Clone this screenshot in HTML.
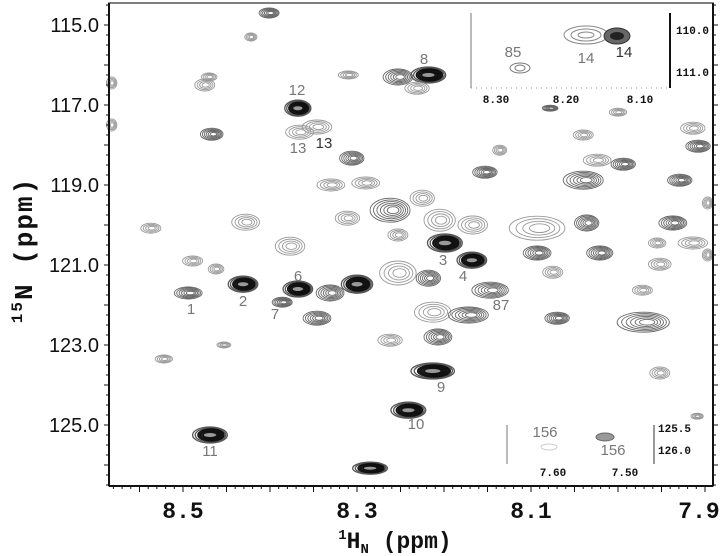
<!DOCTYPE html>
<html><head><meta charset="utf-8"><style>
html,body{margin:0;padding:0;background:#fff;}
svg{display:block;}
.tk{font-family:"Liberation Sans",sans-serif;font-size:20px;fill:#111;}
.xt{font-family:"Liberation Mono",monospace;font-size:23px;font-weight:bold;fill:#111;}
.yt{font-family:"Liberation Mono",monospace;font-size:26px;font-weight:bold;fill:#111;letter-spacing:2px;}
.lb{font-family:"Liberation Sans",sans-serif;font-size:15px;fill:#777;}
.lbd{font-family:"Liberation Sans",sans-serif;font-size:15px;fill:#333;}
.it{font-family:"Liberation Mono",monospace;font-size:11px;font-weight:bold;fill:#111;}
</style></head><body>
<svg id="chart" width="720" height="556" viewBox="0 0 720 556" xmlns="http://www.w3.org/2000/svg">
<g id="peaks"></g>
<g id="axes"></g>
<g>
<text class="lb" x="191" y="314" text-anchor="middle">1</text>
<text class="lb" x="243" y="306" text-anchor="middle">2</text>
<text class="lb" x="275" y="319" text-anchor="middle">7</text>
<text class="lb" x="298" y="281" text-anchor="middle">6</text>
<text class="lb" x="443" y="265" text-anchor="middle">3</text>
<text class="lb" x="463" y="281" text-anchor="middle">4</text>
<text class="lb" x="501" y="310" text-anchor="middle">87</text>
<text class="lb" x="441" y="392" text-anchor="middle">9</text>
<text class="lb" x="416" y="429" text-anchor="middle">10</text>
<text class="lb" x="210" y="456" text-anchor="middle">11</text>
<text class="lb" x="297" y="95" text-anchor="middle">12</text>
<text class="lb" x="298" y="153" text-anchor="middle">13</text>
<text class="lbd" x="324" y="148" text-anchor="middle">13</text>
<text class="lb" x="424" y="64" text-anchor="middle">8</text>
</g>
<g>
<rect x="471" y="12" width="199" height="76" fill="#fff"/>
<line x1="471" y1="13" x2="471" y2="88" stroke="#777" stroke-width="1"/>
<line x1="471" y1="88" x2="670" y2="88" stroke="#999" stroke-width="1" stroke-dasharray="1 4"/>
<line x1="670" y1="13" x2="670" y2="88" stroke="#111" stroke-width="2"/>
<ellipse cx="586" cy="35" rx="22" ry="9" fill="none" stroke="#888"/>
<ellipse cx="586" cy="35" rx="15" ry="6" fill="none" stroke="#888"/>
<ellipse cx="586" cy="35" rx="8" ry="3" fill="none" stroke="#888"/>
<ellipse cx="617" cy="36" rx="13" ry="8" fill="#666" stroke="#333"/>
<ellipse cx="617" cy="36" rx="7" ry="4" fill="#222"/>
<ellipse cx="520" cy="68" rx="10" ry="5" fill="none" stroke="#777"/>
<ellipse cx="520" cy="68" rx="5" ry="3" fill="none" stroke="#777"/>
<text class="lb" x="513" y="57" text-anchor="middle" font-size="16">85</text>
<text class="lb" x="586" y="63" text-anchor="middle" font-size="16">14</text>
<text class="lbd" x="624" y="57" text-anchor="middle" font-size="16">14</text>
<text class="it" x="496" y="103" text-anchor="middle">8.30</text>
<text class="it" x="566" y="103" text-anchor="middle">8.20</text>
<text class="it" x="640" y="103" text-anchor="middle">8.10</text>
<text class="it" x="676" y="34">110.0</text>
<text class="it" x="676" y="76">111.0</text>
</g>
<g>
<line x1="507" y1="425" x2="507" y2="464" stroke="#777"/>
<line x1="654" y1="425" x2="654" y2="464" stroke="#333"/>
<ellipse cx="549" cy="447" rx="8" ry="3" fill="none" stroke="#ccc"/>
<ellipse cx="605" cy="437" rx="9" ry="4" fill="#999" stroke="#666"/>
<text class="lb" x="545" y="437" text-anchor="middle" font-size="16" fill="#999">156</text>
<text class="lb" x="613" y="455" text-anchor="middle" font-size="16">156</text>
<text class="it" x="658" y="432">125.5</text>
<text class="it" x="658" y="454">126.0</text>
<text class="it" x="553" y="476" text-anchor="middle">7.60</text>
<text class="it" x="625" y="476" text-anchor="middle">7.50</text>
</g>
<text class="xt" x="395" y="548" text-anchor="middle"><tspan font-size="14" dy="-9">1</tspan><tspan dy="9">H</tspan><tspan font-size="14" dy="5">N</tspan><tspan dy="-5"> (ppm)</tspan></text>
<text class="yt" transform="translate(32,250) rotate(-90)" text-anchor="middle"><tspan font-size="16" dy="-10">15</tspan><tspan dy="10">N  (ppm)</tspan></text>
</svg>
<script>
// Peak data (ppm)
const peakH = [8.537,8.428,8.377,8.489,8.462,8.494,8.431,8.386,8.368,8.331,8.300,8.346,8.453,8.522,8.469,8.241,8.213,8.285,8.262,8.207,8.213,8.172,8.199,8.168,8.147,8.253,8.218,8.262,8.225,8.205,8.167,8.311,8.253,8.330,8.290,8.401,8.422,8.475,8.470,8.467,8.368,8.366,8.346,8.310,8.306,8.253,8.218,8.231,8.153,8.136,8.078,8.000,8.040,8.024,7.994,8.040,7.914,7.908,7.929,7.897,8.093,8.036,7.937,7.955,7.914,7.897,8.093,8.021,8.075,7.952,7.972,8.070,7.971,7.952,7.909,8.582,8.582];
const peakN = [120.08,119.93,120.53,120.9,121.1,121.7,121.48,121.93,121.6,121.7,121.48,122.33,123.0,123.35,125.25,124.63,123.65,126.08,122.88,122.8,122.18,122.25,120.45,120.88,121.63,121.2,121.33,119.63,119.33,119.88,120.0,119.83,120.25,119.0,118.95,114.7,115.3,116.5,116.3,117.73,117.08,117.68,117.55,116.25,118.33,116.3,116.25,116.58,118.68,118.13,117.08,117.18,117.75,118.38,118.48,118.88,117.58,118.03,118.88,119.45,120.08,119.95,119.95,120.45,120.45,120.75,120.7,120.7,121.18,120.98,121.63,122.33,122.43,123.7,124.78,116.45,117.5];
const peakLevel = [1,1,1,1,1,2,3,2,3,2,3,2,1,1,3,3,3,3,1,2,1,2,3,3,2,1,2,2,1,1,1,1,1,1,1,2,1,1,1,2,3,1,1,1,2,2,3,1,2,1,2,1,1,1,2,2,1,2,2,1,1,2,2,1,1,1,2,2,1,1,1,2,2,1,1,1,1];
const widthH = [.0115,.016,.017,.0115,.009,.016,.017,.0115,.017,.016,.018,.016,.008,.010,.020,.020,.025,.020,.014,.016,.021,.023,.020,.017,.021,.021,.014,.023,.014,.018,.017,.014,.0115,.016,.016,.0115,.007,.0115,.009,.013,.015,.016,.017,.0115,.014,.017,.020,.014,.014,.008,.009,.010,.0115,.016,.014,.023,.014,.014,.014,.006,.032,.014,.016,.010,.017,.006,.016,.015,.0115,.013,.0115,.014,.030,.0115,.007,.006,.006];
const widthN = [.125,.2,.225,.125,.125,.15,.2,.125,.2,.2,.225,.175,.075,.1,.2,.2,.2,.15,.15,.2,.25,.2,.225,.2,.2,.3,.2,.3,.2,.275,.225,.175,.15,.15,.15,.125,.1,.15,.1,.15,.2,.175,.175,.1,.175,.2,.2,.15,.15,.125,.075,.1,.125,.15,.15,.225,.15,.15,.15,.15,.3,.2,.175,.125,.15,.15,.175,.175,.15,.15,.125,.15,.25,.15,.075,.15,.15];
const xTicks = [8.5,8.3,8.1,7.9];
const xTickLabels = ["8.5","8.3","8.1","7.9"];
const yTicks = [115,117,119,121,123,125];
const yTickLabels = ["115.0","117.0","119.0","121.0","123.0","125.0"];

const NS="http://www.w3.org/2000/svg";
const L=109,R=713,T=3,B=486;
function xs(h){return 183+(8.5-h)*870;}
function ys(n){return 25+(n-115)*40;}
const pg=document.getElementById('peaks');
for(let i=0;i<peakH.length;i++){
  const cx=xs(peakH[i]),cy=ys(peakN[i]);
  const rx=widthH[i]*870,ry=widthN[i]*40,lv=peakLevel[i];
  const g=document.createElementNS(NS,'g');
  
  
  const n=lv===3?7:(lv===2?6:4);
  for(let k=0;k<n;k++){
    const s=1-k/n*0.85;
    const e=document.createElementNS(NS,'ellipse');
    e.setAttribute('cx',cx+(k*rx*0.03));e.setAttribute('cy',cy);
    e.setAttribute('rx',rx*s);e.setAttribute('ry',ry*s);
    let col=lv===3?(k<2?'#555':'#111'):(lv===2?'#666':'#999');
    e.setAttribute('stroke',col);e.setAttribute('stroke-width',lv===3?1.3:0.9);
    e.setAttribute('fill',(lv===3&&k>=2)?'#222':'none');
    g.appendChild(e);
  }
  if(lv===3){const e=document.createElementNS(NS,'ellipse');e.setAttribute('cx',cx);e.setAttribute('cy',cy);e.setAttribute('rx',rx*0.35);e.setAttribute('ry',ry*0.25);e.setAttribute('fill','#999');g.appendChild(e);}
  pg.appendChild(g);
}
const ax=document.getElementById('axes');
function line(x1,y1,x2,y2,w,c){const l=document.createElementNS(NS,'line');l.setAttribute('x1',x1);l.setAttribute('y1',y1);l.setAttribute('x2',x2);l.setAttribute('y2',y2);l.setAttribute('stroke',c||'#111');l.setAttribute('stroke-width',w);ax.appendChild(l);return l;}
const fr=document.createElementNS(NS,'rect');
fr.setAttribute('x',L);fr.setAttribute('y',T);fr.setAttribute('width',R-L);fr.setAttribute('height',B-T);
fr.setAttribute('fill','none');fr.setAttribute('stroke','#555');fr.setAttribute('stroke-width','1.5');


ax.appendChild(fr);
line(L,T,L,B,2);line(L,B,R,B,2);line(R,T,R,B,2);
for(let k=0;k<=70;k++){const h=8.58-k*0.01;const x=xs(Math.round(h*100)/100);if(x<L||x>R)continue;const maj=Math.round(h*100)%5===0;line(x,B,x,B+(maj?6:3),1);}
for(let n=114.5;n<=126.6;n+=0.25){const y=ys(n);if(y<T||y>B)continue;const maj=Math.abs(n-Math.round(n))<0.01;line(L,y,L-(maj?5:3),y,1);line(R,y,R+(maj?5:3),y,1);}
xTicks.forEach((v,i)=>{const t=document.createElementNS(NS,'text');t.setAttribute('class','xt');t.setAttribute('x',Math.min(xs(v),699));t.setAttribute('y',518);t.setAttribute('text-anchor','middle');t.textContent=xTickLabels[i];


ax.appendChild(t);});
yTicks.forEach((v,i)=>{const t=document.createElementNS(NS,'text');t.setAttribute('class','tk');t.setAttribute('x',99);t.setAttribute('y',ys(v)+7);t.setAttribute('text-anchor','end');t.textContent=yTickLabels[i];


ax.appendChild(t);});
</script>
</body></html>
